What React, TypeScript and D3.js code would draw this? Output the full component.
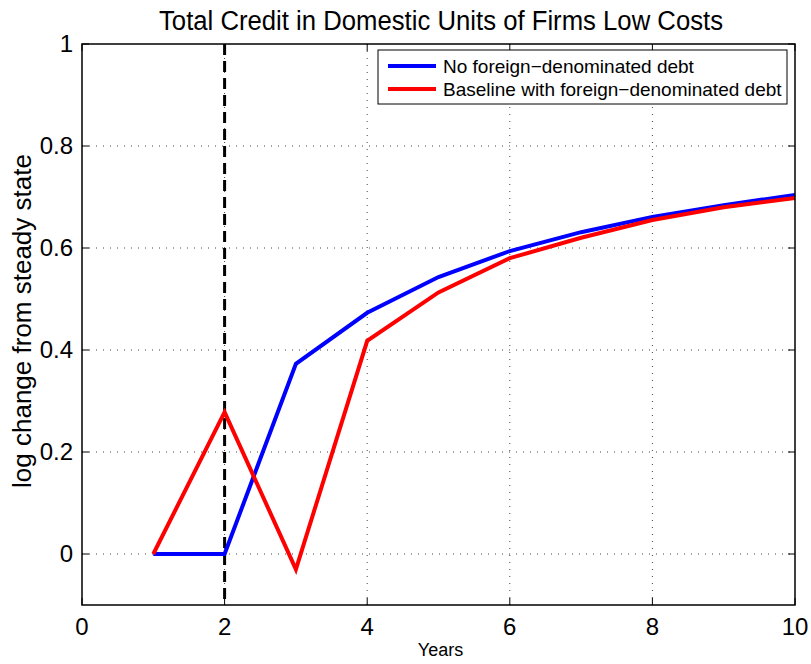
import React from "react";
import * as d3 from "d3";

const years = [1, 2, 3, 4, 5, 6, 7, 8, 9, 10];
const noForeign = [0, 0, 0.373, 0.473, 0.543, 0.594, 0.631, 0.661, 0.684, 0.704];
const baseline = [0, 0.278, -0.03, 0.418, 0.513, 0.58, 0.62, 0.655, 0.68, 0.698];
const xTicks = [0, 2, 4, 6, 8, 10];
const yTicks = [0, 0.2, 0.4, 0.6, 0.8, 1];
const shockYear = 2;
const seriesNames = ["No foreign\u2212denominated debt", "Baseline with foreign\u2212denominated debt"];
const seriesColors = ["#0000ff", "#ff0000"];

export default function App() {
  const W = 811, H = 664;
  const L = 82, R = 795, T = 44, B = 605;
  const x = d3.scaleLinear().domain([0, 10]).range([L, R]);
  const y = d3.scaleLinear().domain([-0.1, 1]).range([B, T]);
  const line = d3.line<number>().x((_, i) => x(years[i])).y((d) => y(d));
  const font = "'Liberation Sans', Arial, Helvetica, sans-serif";
  const tick = 7;
  return (
    <svg width={W} height={H} style={{ position: "absolute", left: 0, top: 0 }} fontFamily={font}>
      <rect x={0} y={0} width={W} height={H} fill="#fff" />
      {/* grid */}
      {xTicks.slice(1, -1).map((t) => (
        <line key={"gx" + t} x1={x(t)} x2={x(t)} y1={T} y2={B} stroke="#444" strokeWidth={1} strokeDasharray="1,6" />
      ))}
      {yTicks.filter((t) => t !== 1).map((t) => (
        <line key={"gy" + t} x1={L} x2={R} y1={y(t)} y2={y(t)} stroke="#444" strokeWidth={1} strokeDasharray="1,6" />
      ))}
      {/* ticks */}
      {xTicks.map((t) => (
        <g key={"tx" + t}>
          <line x1={x(t)} x2={x(t)} y1={B} y2={B - tick} stroke="#000" />
          <line x1={x(t)} x2={x(t)} y1={T} y2={T + tick} stroke="#000" />
          <text x={x(t)} y={B + 30} textAnchor="middle" fontSize={24}>{t}</text>
        </g>
      ))}
      {yTicks.map((t) => (
        <g key={"ty" + t}>
          <line x1={L} x2={L + tick} y1={y(t)} y2={y(t)} stroke="#000" />
          <line x1={R} x2={R - tick} y1={y(t)} y2={y(t)} stroke="#000" />
          <text x={L - 9} y={y(t) + 8} textAnchor="end" fontSize={24}>{t}</text>
        </g>
      ))}
      {/* vertical dashed */}
      <line x1={x(shockYear)} x2={x(shockYear)} y1={T} y2={B} stroke="#000" strokeWidth={3} strokeDasharray="11,6" />
      {/* series */}
      <path d={line(noForeign) || ""} fill="none" stroke={seriesColors[0]} strokeWidth={4} strokeLinejoin="miter" />
      <path d={line(baseline) || ""} fill="none" stroke={seriesColors[1]} strokeWidth={4} strokeLinejoin="miter" />
      {/* box */}
      <rect x={L} y={T} width={R - L} height={B - T} fill="none" stroke="#000" strokeWidth={1.5} />
      {/* legend */}
      <rect x={378} y={50} width={409} height={54} fill="#fff" stroke="#000" strokeWidth={1} />
      {seriesNames.map((n, i) => (
        <g key={n}>
          <line x1={388} x2={436} y1={66 + i * 23} y2={66 + i * 23} stroke={seriesColors[i]} strokeWidth={4} />
          <text x={443} y={66 + i * 23 + 6.5} fontSize={19}>{n}</text>
        </g>
      ))}
      {/* labels */}
      <text x={159} y={30} fontSize={27} textLength={564} lengthAdjust="spacingAndGlyphs">Total Credit in Domestic Units of Firms Low Costs</text>
      <text x={(L + R) / 2 + 2} y={656} textAnchor="middle" fontSize={18}>Years</text>
      <text transform={`translate(31,${321}) rotate(-90)`} textAnchor="middle" fontSize={26}>log change from steady state</text>
    </svg>
  );
}
